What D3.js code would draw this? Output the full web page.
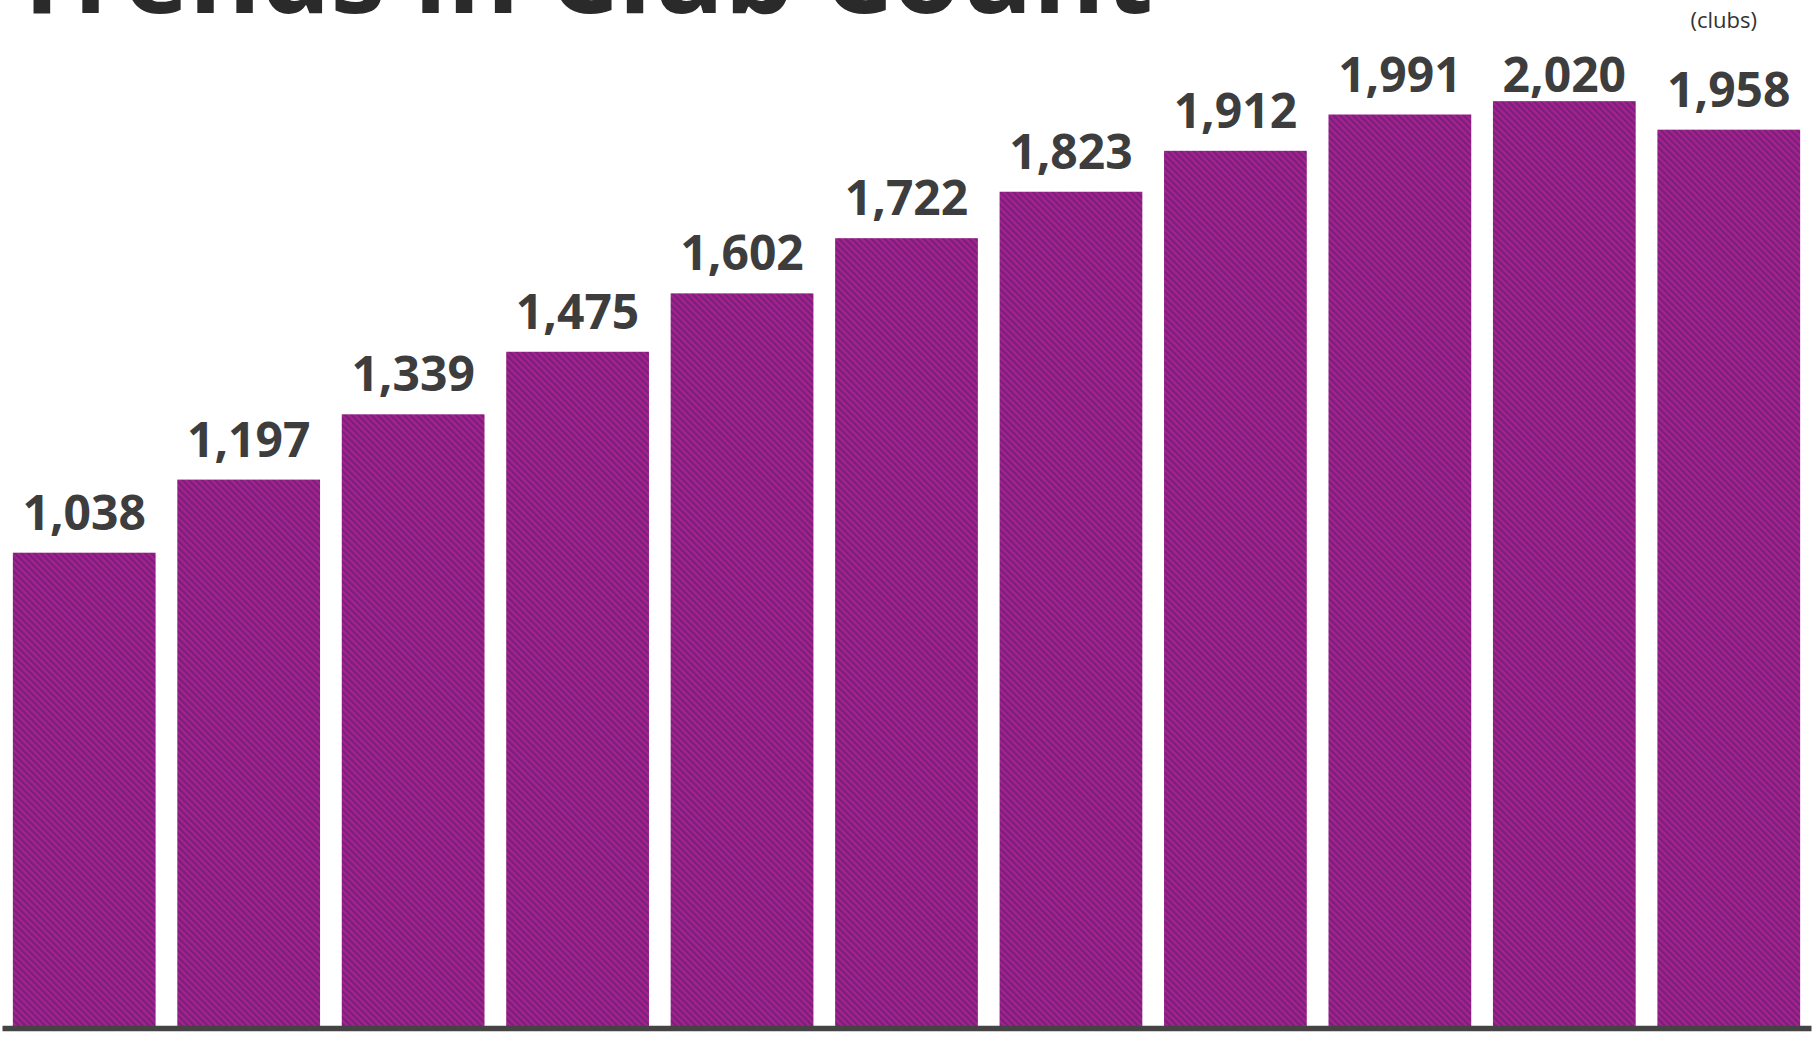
<!DOCTYPE html>
<html>
<head>
<meta charset="utf-8">
<script src="https://cdn.jsdelivr.net/npm/d3@7"></script>
<style>
  html, body { margin: 0; padding: 0; background: #ffffff; }
  svg { display: block; }
</style>
</head>
<body>
<script>
// Annual club totals
const years = ["Y1", "Y2", "Y3", "Y4", "Y5", "Y6", "Y7", "Y8", "Y9", "Y10", "Y11"];
const clubCounts = [1038, 1197, 1339, 1475, 1602, 1722, 1823, 1912, 1991, 2020, 1958];
const titleText = "Trends in Club Count";
const unitText = "(clubs)";

const W = 1816, H = 1038;
const svg = d3.select("body").append("svg").attr("width", W).attr("height", H);

// Diagonal two-tone stripe fill for the bars
const defs = svg.append("defs");
const pat = defs.append("pattern")
  .attr("id", "stripes")
  .attr("patternUnits", "userSpaceOnUse")
  .attr("width", 4.6).attr("height", 4.6)
  .attr("patternTransform", "rotate(-45)");
pat.append("rect").attr("width", 4.6).attr("height", 4.6).attr("fill", "#a8228a");
pat.append("rect").attr("width", 2.3).attr("height", 4.6).attr("fill", "#77207f");

const x = d3.scaleBand()
  .domain(years)
  .range([2, 1811])
  .paddingInner(0.132)
  .paddingOuter(0.066);

const y = d3.scaleLinear()
  .domain([0, 2240])
  .range([1030, 0]);

// Bars
svg.append("g").selectAll("rect")
  .data(clubCounts)
  .join("rect")
  .attr("x", (d, i) => x(years[i]))
  .attr("y", d => y(d))
  .attr("width", x.bandwidth())
  .attr("height", d => y(0) - y(d))
  .attr("fill", "url(#stripes)");

// Value labels above bars (kept below the top edge of the chart)
const fmt = d3.format(",");
svg.append("g").selectAll("text")
  .data(clubCounts)
  .join("text")
  .attr("x", (d, i) => x(years[i]) + x.bandwidth() / 2)
  .attr("y", d => Math.max(y(d) - 23, 92))
  .attr("text-anchor", "middle")
  .attr("font-family", "'Open Sans', sans-serif")
  .attr("font-weight", 700)
  .attr("font-size", 48)
  .attr("fill", "#3d3d3d")
  .text(d => fmt(d));

// Baseline axis
const axis = svg.append("g").attr("transform", `translate(0, ${y(0) - 2})`)
  .call(d3.axisBottom(x).tickSize(0).tickFormat(""));
axis.select(".domain")
  .attr("stroke", "#444444")
  .attr("stroke-width", 5.5);

// Title
svg.append("text")
  .attr("x", 10)
  .attr("y", 13)
  .attr("font-family", "'Open Sans', sans-serif")
  .attr("font-weight", 700)
  .attr("font-size", 110)
  .attr("fill", "#2a2a2a")
  .text(titleText);

// Unit note
svg.append("text")
  .attr("x", 1757)
  .attr("y", 28)
  .attr("text-anchor", "end")
  .attr("font-family", "'Open Sans', sans-serif")
  .attr("font-size", 22)
  .attr("fill", "#333333")
  .text(unitText);
</script>
</body>
</html>
